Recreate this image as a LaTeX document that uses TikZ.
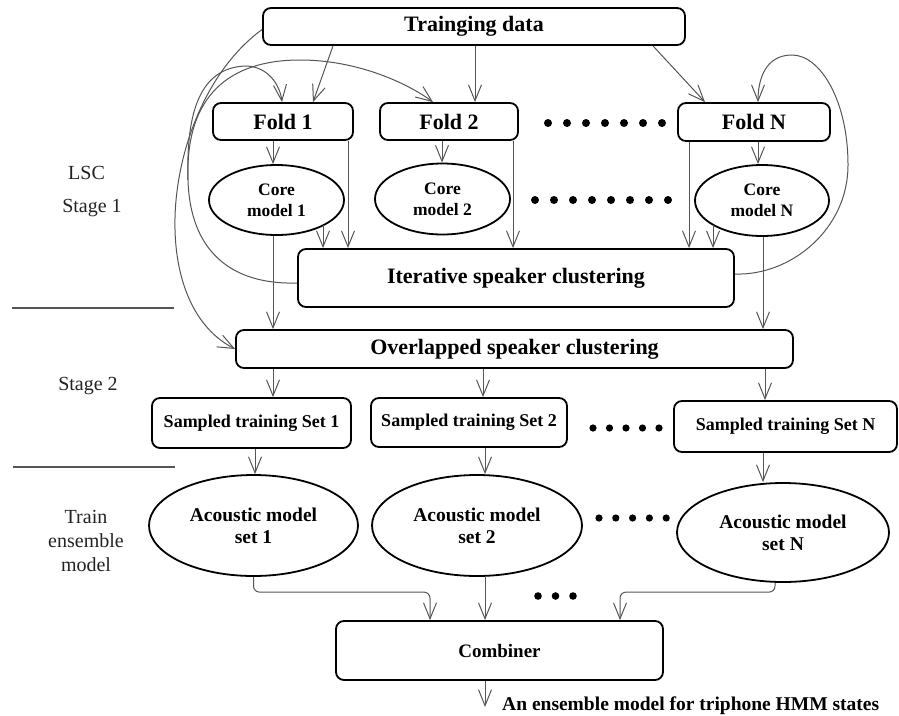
\documentclass[tikz,border=0pt]{standalone}
\usepackage{fontspec}
\setmainfont{Liberation Serif}
\usetikzlibrary{arrows.meta,shapes.geometric,calc}
\definecolor{conncol}{HTML}{555555}
\definecolor{labcol}{HTML}{222222}
\begin{document}
\begin{tikzpicture}[x=1pt,y=-1pt,
  box/.style={draw=black, line width=1.8pt, rounded corners=8pt, inner sep=0pt, align=center,
    font=\bfseries\fontsize{22}{26}\selectfont},
  sbox/.style={box, font=\bfseries\fontsize{18}{22}\selectfont},
  cbox/.style={box, font=\bfseries\fontsize{19}{23}\selectfont},
  ell/.style={draw=black, ellipse, line width=1.8pt, inner sep=0pt, align=center,
    font=\bfseries\fontsize{17.5}{21}\selectfont},
  aell/.style={ell, font=\bfseries\fontsize{19.5}{22}\selectfont},
  conn/.style={draw=conncol, line width=1pt, -{Straight Barb[length=16pt,width=13pt]}},
  lab/.style={text=labcol, inner sep=0pt, align=center, font=\fontsize{20}{24}\selectfont},
  outlab/.style={inner sep=0pt, font=\bfseries\fontsize{19.5}{22}\selectfont},
  sepline/.style={draw=conncol, line width=1.1pt},
  dotmark/.style={fill=black}
]
\useasboundingbox (0,0) rectangle (899,715);

% nodes
\node[box, minimum width=422pt, minimum height=37pt] (train) at (474,26.5) {Trainging data};
\node[box, minimum width=140pt, minimum height=37pt] (fold1) at (283,121.5) {Fold 1};
\node[box, minimum width=138pt, minimum height=37pt] (fold2) at (449,121.5) {Fold 2};
\node[box, minimum width=152pt, minimum height=38pt] (foldN) at (754,122) {Fold N};
\node[ell, minimum width=135pt, minimum height=70pt] (core1) at (276.5,200) {Core\\model 1};
\node[ell, minimum width=135pt, minimum height=71pt] (core2) at (442.5,199) {Core\\model 2};
\node[ell, minimum width=134pt, minimum height=71pt] (coreN) at (762,200.5) {Core\\model N};
\node[box, minimum width=436pt, minimum height=58pt] (iter) at (516,278) {Iterative speaker clustering};
\node[box, minimum width=557pt, minimum height=38pt] (over) at (514.5,349) {Overlapped speaker clustering};
\node[sbox, minimum width=199pt, minimum height=50pt] (set1) at (251.5,423) {Sampled training Set 1};
\node[sbox, minimum width=196pt, minimum height=49pt] (set2) at (469,422.5) {Sampled training Set 2};
\node[sbox, minimum width=223pt, minimum height=51pt] (setN) at (785.5,426.5) {Sampled training Set N};
\node[aell, minimum width=209pt, minimum height=101pt] (ac1) at (253.5,525.5) {Acoustic model\\set 1};
\node[aell, minimum width=210pt, minimum height=101pt] (ac2) at (477,525.5) {Acoustic model\\set 2};
\node[aell, minimum width=212pt, minimum height=99pt] (acN) at (783,532.5) {Acoustic model\\set N};
\node[cbox, minimum width=327pt, minimum height=59pt] (comb) at (499.5,650.5) {Combiner};

% left labels
\node[lab] (lsc) at (86.5,173) {LSC};
\node[lab] (st1) at (92,208) {Stage 1};
\node[lab] (st2) at (88,386) {Stage 2};
\node[lab] (tem) at (86,541) {Train\\ensemble\\model};
\draw[sepline] (12,308) -- (174,308);
\draw[sepline] (13,467) -- (175,467);

% dots
\foreach \i in {0,...,6} \fill[dotmark] (548+19*\i,123) circle[radius=4pt];
\foreach \i in {0,...,7} \fill[dotmark] (535+19*\i,200) circle[radius=4pt];
\foreach \i in {0,...,4} \fill[dotmark] (593+16.5*\i,428) circle[radius=3.6pt];
\foreach \i in {0,...,4} \fill[dotmark] (599+16.8*\i,518) circle[radius=3.6pt];
\foreach \i in {0,...,2} \fill[dotmark] (538+17.5*\i,596) circle[radius=3.8pt];

% training data -> folds
\draw[conn] ($(train.south)+(-141,0)$) -- ($(fold1.north)+(30,0)$);
\draw[conn] ($(train.south)+(1,0)$) -- ($(fold2.north)+(26,0)$);
\draw[conn] ($(train.south)+(179,0)$) -- ($(foldN.north)+(-49,0)$);

% folds -> core models
\draw[conn] ($(fold1.south)+(-10,0)$) -- ($(core1.north)+(-3.5,0)$);
\draw[conn] ($(fold2.south)+(-7,0)$) -- ($(core2.north)+(-0.5,0)$);
\draw[conn] ($(foldN.south)+(4,0)$) -- ($(coreN.north)+(-4,0)$);

% to iterative
\draw[conn] ($(fold1.south)+(65,0)$) -- ($(iter.north)+(-168,0)$);
\draw[conn] ($(core1.center)+(46.5,25.4)$) -- ($(iter.north)+(-193,0)$);
\draw[conn] ($(fold2.south)+(64,0)$) -- ($(iter.north)+(-3,0)$);
\draw[conn] ($(foldN.south)+(-65,0)$) -- ($(iter.north)+(173,0)$);
\draw[conn] ($(coreN.center)+(-49,24.2)$) -- ($(iter.north)+(197,0)$);

% core -> overlapped
\draw[conn] ($(core1.south)+(-3.5,0)$) -- ($(over.north)+(-241.5,0)$);
\draw[conn] ($(coreN.south)+(1,0)$) -- ($(over.north)+(248.5,0)$);

% overlapped -> sets
\draw[conn] ($(over.south)+(-241.5,0)$) -- ($(set1.north)+(21.5,0)$);
\draw[conn] ($(over.south)+(-31.5,0)$) -- ($(set2.north)+(14,0)$);
\draw[conn] ($(over.south)+(250.5,0)$) -- ($(setN.north)+(-20.5,0)$);

% sets -> acoustic
\draw[conn] ($(set1.south)+(3.5,0)$) -- ($(ac1.north)+(1.5,0)$);
\draw[conn] ($(set2.south)+(16,0)$) -- ($(ac2.north)+(8,0)$);
\draw[conn] ($(setN.south)+(-22.5,0)$) -- ($(acN.north)+(-20,0)$);

% acoustic -> combiner
\draw[conn, rounded corners=6pt] (ac1.south) |- ($(comb.north)+(-69.5,-28)$) -- ($(comb.north)+(-69.5,0)$);
\draw[conn] ($(ac2.south)+(8,0)$) -- ($(comb.north)+(-14.5,0)$);
\draw[conn, rounded corners=6pt] ($(acN.south)+(-8,0)$) |- ($(comb.north)+(120.5,-28)$) -- ($(comb.north)+(120.5,0)$);

% output
\coordinate (outp) at (485,707);
\draw[conn] ($(comb.south)+(-14.5,0)$) -- (outp);
\node[outlab, anchor=base west] (outtxt) at (502,710) {An ensemble model for triphone HMM states};

% curved connectors
\draw[conn] ($(train.west)+(0,3)$) .. controls (165,100) and (140,300) .. (over.west);
\draw[conn] ($(iter.west)+(0,5)$) .. controls (230,285) and (190,250) .. (188,180) coordinate (bj)
   .. controls (186,112) and (200,68) .. (245,66)
   .. controls (268,66) and (280,85) .. ($(fold1.north)+(-1,0)$);
\draw[conn] (bj) .. controls (185,95) and (230,60) .. (300,60)
   .. controls (360,60) and (410,85) .. ($(fold2.north)+(-16,0)$);
\draw[conn] ($(iter.east)+(0,-4)$) .. controls (790,276) and (848,230) .. (848,165)
   .. controls (848,100) and (820,55) .. (792,55)
   .. controls (765,55) and (758,80) .. ($(foldN.north)+(4,0)$);
\end{tikzpicture}
\end{document}
